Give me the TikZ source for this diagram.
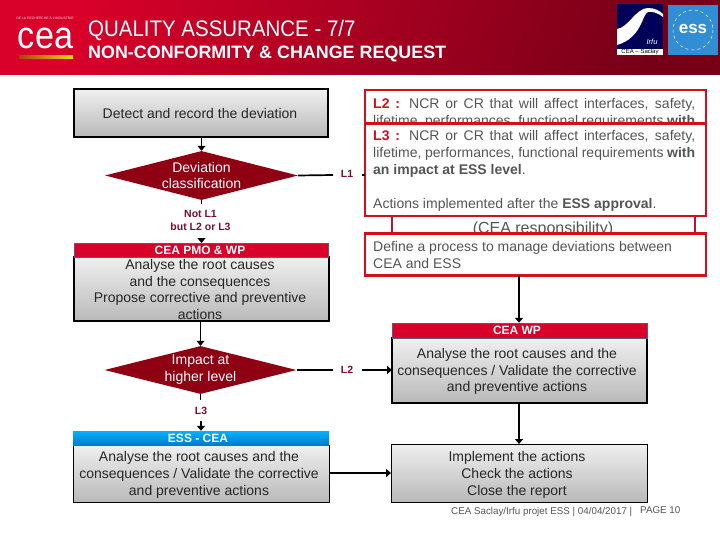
\documentclass[tikz,border=0pt]{standalone}
\usepackage{fontspec}
\setmainfont{Liberation Sans}
\usetikzlibrary{arrows.meta,shapes.geometric,calc}
\definecolor{ceared}{HTML}{D9002A}
\definecolor{deepred}{HTML}{8E0012}
\definecolor{labelred}{HTML}{7A1030}
\definecolor{boxred}{HTML}{D2101C}
\definecolor{txtgray}{HTML}{555555}
\definecolor{hidedge}{HTML}{B01840}
\definecolor{slateedge}{HTML}{5A5A80}
\newcommand{\fullline}[1]{\makebox[322pt][s]{#1}}
\tikzset{
 x=1pt,y=-1pt,
 flowbox/.style={draw=black,top color=gray!12,bottom color=gray!55,minimum width=0pt,inner sep=0pt},
 boxtext/.style={font=\fontsize{14}{16.8}\selectfont,align=center,text=black!85},
 decide/.style={diamond,aspect=3.95,fill=deepred,draw=none,inner sep=0pt,text=white,font=\fontsize{14}{16.8}\selectfont,align=center},
 lab/.style={font=\bfseries\fontsize{10.5}{13}\selectfont,text=labelred,align=center,inner sep=0pt},
 head/.style={font=\bfseries\fontsize{12}{12}\selectfont,text=white,inner sep=0pt},
 redbox/.style={draw=boxred,line width=2.6pt,fill=white},
 redtext/.style={font=\fontsize{14}{17}\selectfont,text=txtgray,align=left,inner sep=0pt,anchor=north west},
 flow/.style={draw=black,line width=1.7pt,-{Triangle[length=5pt,width=8pt]}},
 plainline/.style={draw=black,line width=1.7pt},
}
\begin{document}
\begin{tikzpicture}
\useasboundingbox (0,0) rectangle (720,540);
\fill[white] (0,0) rectangle (720,540);
% header band
\shade[left color=ceared,right color=ceared!55!black,shading angle=70] (0,0) rectangle (720,75);
\node[anchor=west,inner sep=0,text=white,xscale=.91,font=\fontsize{22.5}{24}\selectfont] (title) at (88,30) {QUALITY ASSURANCE - 7/7};
\node[anchor=west,inner sep=0,text=white,font=\bfseries\fontsize{17.9}{20}\selectfont] (subtitle) at (88,54) {NON-CONFORMITY \& CHANGE REQUEST};
% cea logo
\node[anchor=center,inner sep=0,text=white!85!ceared,font=\fontsize{3.4}{4}\selectfont] (tag) at (45,18.5) {DE LA RECHERCHE À L'INDUSTRIE};
\node[anchor=center,inner sep=0,text=white,xscale=.9,font=\fontsize{38}{38}\selectfont] (ceaword) at (45.5,38) {cea};
\shade[left color=ceared!50!olive,right color=yellow!70!brown] (19,56) rectangle (73,59);
% irfu logo
\fill[blue!35!black] (617,4) rectangle (663,55);
\fill[white] (617,49) rectangle (663,55);
\fill[white] (617,29) .. controls (628,28) and (636,8) .. (648,8) .. controls (655,8) and (660,11) .. (663,14) -- (663,17) .. controls (658,13) and (652,11) .. (648,12) .. controls (642,14) and (642,38) .. (617,45) -- cycle;
\node[inner sep=0,text=white,font=\itshape\fontsize{7.5}{8}\selectfont] (irfu) at (652,42) {Irfu};
\node[inner sep=0,text=black,font=\fontsize{6}{6}\selectfont] (saclay) at (640,52) {CEA -- Saclay};
% ess logo
\fill[cyan!65!blue!85!white] (668,5) rectangle (718,55);
\draw[white,line width=.5pt,dashed] (693,30) circle (20);
\node[inner sep=0,text=white,font=\bfseries\fontsize{17}{17}\selectfont] (esslogo) at (693,29) {ess};

% hidden box behind the red boxes
\draw[draw=hidedge,line width=1.6pt] (392,210) -- (392,238);
\draw[draw=hidedge,line width=1.6pt] (695,210) -- (695,238);
\node[inner sep=0,font=\fontsize{16}{18}\selectfont,text=txtgray] (respons) at (543,229) {(CEA responsibility)};

% left column
\path[flowbox,draw=black,line width=1.5pt] (74,89) rectangle (328,137);
\node[boxtext] (detect) at (200,113) {Detect and record the deviation};
\node[decide,minimum width=193pt,minimum height=49pt] (dev) at (201.5,175.5) {Deviation\\classification};
\node[lab] (l1) at (347,173.5) {L1};
\node[lab] (notl1) at (200.5,220.5) {Not L1\\but L2 or L3};

\path[flowbox,line width=1.5pt] (74,257) rectangle (329,321);
\node[draw=slateedge,fill=ceared,minimum width=254pt,minimum height=14pt,head,inner sep=0pt] (pmo) at (201.5,250) {\makebox[254pt]{\hspace{-3pt}CEA PMO \& WP}};
\node[boxtext] (pmotxt) at (200,289.5) {Analyse the root causes\\and the consequences\\Propose corrective and preventive\\actions};
\node[decide,minimum width=192pt,minimum height=48pt] (imp) at (200.5,370) {Impact at\\higher level};
\node[lab] (l2) at (347,370) {L2};
\node[lab] (l3) at (201,411) {L3};

\path[flowbox,line width=.7pt] (73,445) rectangle (329,502);
\node[inner sep=0,minimum width=256pt,minimum height=14pt,top color=cyan!70!blue,bottom color=cyan!60!blue!80!black,head] (essh) at (201,438) {\makebox[256pt]{\hspace{-6pt}ESS - CEA}};
\node[boxtext] (esstxt) at (199,475) {Analyse the root causes and the\\consequences / Validate the corrective\\and preventive actions};

% right column
\path[flowbox,line width=1.5pt] (392,338) rectangle (647,403);
\node[draw=slateedge,fill=ceared,minimum width=255pt,minimum height=15pt,head,inner sep=0pt] (wp) at (519.5,330.5) {\makebox[255pt]{\hspace{-5pt}CEA WP}};
\node[boxtext] (wptxt) at (517,371.5) {Analyse the root causes and the\\consequences / Validate the corrective\\and preventive actions};
\path[flowbox,line width=.7pt] (391,444) rectangle (647,502);
\node[boxtext] (impl) at (517,475) {Implement the actions\\Check the actions\\Close the report};

% red boxes
\path[redbox] (365,90) rectangle (706,124);
\node[redtext] (l2txt) at (373,98) {\fullline{{\bfseries\textcolor{boxred}{L2 :}} NCR or CR that will affect interfaces, safety,}\\\fullline{lifetime, performances, functional requirements \textbf{with}}};
\path[redbox] (365,123.5) rectangle (706,216);
\node[redtext] (l3txt) at (373,130) {\fullline{{\bfseries\textcolor{boxred}{L3 :}} NCR or CR that will affect interfaces, safety,}\\\fullline{lifetime, performances, functional requirements \textbf{with}}\\\textbf{an impact at ESS level}.\\[17pt]Actions implemented after the \textbf{ESS approval}.};
\path[redbox] (365,233.5) rectangle (706,275.5);
\node[redtext] (deftxt) at (373,241.5) {Define a process to manage deviations between\\CEA and ESS};

% connectors
\coordinate (detb) at (201.5,137);
\coordinate (pmotop) at (201.5,243);
\coordinate (dl1) at (333,175);
\coordinate (dl1b) at (362,175);
\coordinate (pmob) at (200.5,321);
\coordinate (il2) at (333,370);
\coordinate (il2b) at (362,370);
\coordinate (wpl) at (392,370);
\coordinate (l3t) at (201,421);
\coordinate (defb) at (519,276);
\coordinate (wpb) at (519,403);
\coordinate (essr) at (329,473);
\coordinate (impll) at (391,473);
\coordinate (impit) at (519,444);
\draw[flow] (detb) -- (dev.north);
\draw[plainline] (dev.east) -- (dl1);
\draw[plainline] (dl1b) -- ++(3,0);
\draw[plainline] (dev.south) -- ++(0,4);
\draw[flow] ($(pmotop)+(0,-5)$) -- (pmotop);
\draw[flow] (pmob) -- (imp.north);
\draw[plainline] (imp.east) -- (il2);
\draw[flow] (il2b) -- (wpl);
\draw[plainline] (imp.south) -- ++(0,6);
\draw[flow] (l3t) -- (essh.north -| l3t);
\draw[flow] (defb) -- (wp.north -| defb);
\draw[flow] (wpb) -- (impit);
\draw[flow] (essr) -- (impll);
% footer
\node[anchor=west,inner sep=0,text=txtgray,font=\fontsize{9.8}{11}\selectfont] (foot) at (451,511.5) {CEA Saclay/Irfu projet ESS \textbar\ 04/04/2017 \textbar};
\node[anchor=west,inner sep=0,text=txtgray,font=\fontsize{9.8}{11}\selectfont] (page) at (640,510.5) {PAGE 10};
\end{tikzpicture}
\end{document}
